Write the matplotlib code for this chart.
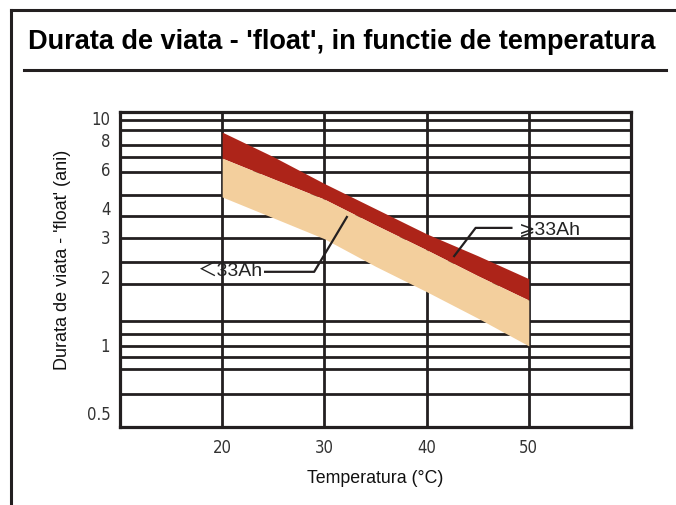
import matplotlib.pyplot as plt
from matplotlib.lines import Line2D

# temperature points (deg C) where the bands are read
temps = [20, 25, 30, 35, 40, 45, 50]
# upper edge of the >=33Ah band (years)
big_top = [8.6, 6.7, 5.1, 3.95, 3.06, 2.45, 1.94]
# boundary between the two bands
mid_line = [6.6, 5.35, 4.35, 3.35, 2.6, 2.0, 1.56]
# lower edge of the <33Ah band
small_bottom = [4.45, 3.6, 2.91, 2.2, 1.7, 1.3, 0.98]

x_ticks = [20, 30, 40, 50]
y_ticks = [10, 8, 6, 4, 3, 2, 1, 0.5]
y_labels = ["10", "8", "6", "4", "3", "2", "1", "0.5"]
h_grid = [9.73, 8.79, 7.55, 6.68, 5.74, 4.54, 3.67, 2.94, 2.30, 1.84,
          1.26, 1.107, 0.98, 0.876, 0.776, 0.602]

ink = "#231f20"
red = "#ad2419"
beige = "#f3cf9d"

fig = plt.figure(figsize=(6.76, 5.06), dpi=100)
ax = fig.add_axes([0.1775, 0.1542, 0.7559, 0.6225])

ax.set_yscale("log")
ax.set_xlim(10, 60)
ax.set_ylim(0.43, 10.55)

for v in h_grid:
    ax.axhline(v, color=ink, lw=2.0, zorder=1)
for v in x_ticks:
    ax.axvline(v, color=ink, lw=2.0, zorder=1)

ax.fill_between(temps, mid_line, big_top, color=red, lw=0, zorder=2)
ax.fill_between(temps, small_bottom, mid_line, color=beige, lw=0, zorder=2)

for s in ax.spines.values():
    s.set_linewidth(2.3)
    s.set_color(ink)
    s.set_zorder(3)

ax.set_xticks(x_ticks)
ax.set_xticklabels([str(t) for t in x_ticks])
ax.set_yticks(y_ticks)
ax.set_yticklabels(y_labels)
ax.minorticks_off()
ax.tick_params(length=0, labelsize=12, labelcolor="#333333")
ax.tick_params(axis="x", pad=8)
ax.tick_params(axis="y", pad=7)
for lab in ax.get_xticklabels() + ax.get_yticklabels():
    lab.set_family(["Liberation Sans Narrow", "DejaVu Sans"])
    lab.set_fontstretch("condensed")

# leader lines and labels
ax.plot([42.7, 44.8, 48.3], [2.44, 3.25, 3.25], color=ink, lw=1.6, zorder=4)
ax.text(49.0, 3.2, "\u2a7e33Ah", fontsize=14, va="center", ha="left",
        color="#222222", family=["Liberation Sans", "DejaVu Sans"])
ax.plot([24.2, 29.0, 32.2], [2.08, 2.08, 3.63], color=ink, lw=1.6, zorder=4)
ax.text(24.0, 2.1, "\uff1c33Ah", fontsize=14, va="center", ha="right",
        color="#222222", family=["Liberation Sans", "Noto Sans CJK JP"])

fig.text(0.555, 0.055, "Temperatura (°C)", fontsize=12.8, ha="center",
         va="center", family="Liberation Sans", color="#111111")
fig.text(0.092, 0.487, "Durata de viata - 'float' (ani)", fontsize=13,
         rotation=90, ha="center", va="center", family="Liberation Sans",
         color="#111111")

fig.text(0.041, 0.917, "Durata de viata - 'float', in functie de temperatura",
         fontsize=19.5, fontweight="bold", ha="left", va="center",
         family="Liberation Sans", color="#000000")

# frame lines around the panel
fig.add_artist(Line2D([0.016, 1.0], [0.978, 0.978], color=ink, lw=2.2))
fig.add_artist(Line2D([0.016, 0.016], [0.0, 0.978], color=ink, lw=2.2))
fig.add_artist(Line2D([0.036, 0.985], [0.859, 0.859], color=ink, lw=2.2))

fig.savefig("out.png", dpi=100)
